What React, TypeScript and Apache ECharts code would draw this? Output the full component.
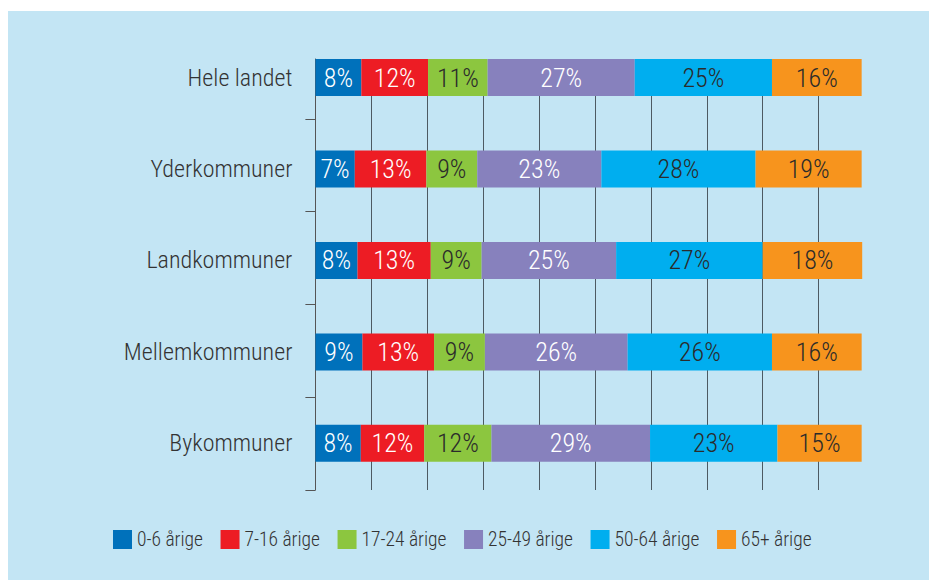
import React, { useEffect, useRef } from "react";
import * as echarts from "echarts";

const categories = ["Hele landet", "Yderkommuner", "Landkommuner", "Mellemkommuner", "Bykommuner"];
const seriesNames = ["0-6 årige", "7-16 årige", "17-24 årige", "25-49 årige", "50-64 årige", "65+ årige"];
const age0_6 = [8.4, 7.2, 7.7, 8.6, 8.3];
const age7_16 = [12.2, 13.1, 13.4, 13.1, 11.6];
const age17_24 = [10.9, 9.3, 9.3, 9.3, 12.3];
const age25_49 = [26.9, 22.7, 24.6, 26.1, 29.0];
const age50_64 = [25.1, 28.2, 26.8, 26.4, 23.3];
const age65 = [16.4, 19.4, 18.2, 16.4, 15.4];
const seriesValues = [age0_6, age7_16, age17_24, age25_49, age50_64, age65];
const colors = ["#0071bb", "#ed1c24", "#8cc63f", "#8781bd", "#00aeef", "#f7941d"];
const labelColors = ["#ffffff", "#ffffff", "#2b2b2b", "#ffffff", "#2b2b2b", "#2b2b2b"];
const boundaryTicks = [1, 2, 3, 4, 5];

const FONT = "'Liberation Sans Narrow', 'Roboto Condensed', 'Arial Narrow', Roboto, sans-serif";

export default function App() {
  const ref = useRef<HTMLDivElement>(null);
  useEffect(() => {
    if (!ref.current) return;
    const chart = echarts.init(ref.current, null, { renderer: "svg" });
    chart.setOption({
      animation: false,
      backgroundColor: "#c3e5f4",
      textStyle: { fontFamily: FONT, fontWeight: 300 },
      legend: {
        left: 100,
        top: 513.5,
        icon: "rect",
        itemWidth: 19,
        itemHeight: 19,
        itemGap: 17.5,
        data: seriesNames,
        textStyle: { fontSize: 19.5, color: "#333", fontFamily: FONT, fontWeight: 300 },
      },
      grid: [
        { left: 307.4, width: 546.8, top: 20.8, height: 457.3, containLabel: false },
        { left: 307.4, width: 546.8, top: 48, height: 431, containLabel: false },
      ],
      xAxis: [
        {
          gridIndex: 0,
          type: "value",
          min: 0,
          max: 100,
          show: false,
        },
        {
          gridIndex: 1,
          type: "value",
          min: 0,
          max: 97.8,
          interval: 10,
          axisLine: { show: false },
          axisTick: { show: false },
          axisLabel: { show: false },
          splitLine: {
            show: true,
            showMinLine: false,
            showMaxLine: false,
            lineStyle: { color: "#4d5a62", width: 1 },
          },
        },
      ],
      yAxis: [
        {
          gridIndex: 0,
          type: "category",
          inverse: true,
          data: categories,
          axisLine: { show: false },
          axisTick: { show: false },
          splitLine: { show: false },
          axisLabel: {
            margin: 23,
            fontSize: 24,
            color: "#333",
            fontFamily: FONT,
            fontWeight: 300,
            lineHeight: 30,
            padding: [8, 0, 0, 0],
          },
        },
        {
          gridIndex: 1,
          type: "value",
          inverse: true,
          min: 0.356,
          max: 5,
          axisLine: { show: true, lineStyle: { color: "#555", width: 1 } },
          axisTick: {
            show: true,
            customValues: boundaryTicks,
            length: 10,
            inside: false,
            lineStyle: { color: "#555", width: 1 },
          },
          axisLabel: { show: false },
          splitLine: { show: false },
        },
      ],
      series: seriesValues.map((vals, i) => ({
        name: seriesNames[i],
        type: "bar",
        stack: "total",
        xAxisIndex: 0,
        yAxisIndex: 0,
        barWidth: 37,
        data: vals,
        itemStyle: { color: colors[i] },
        z: 3,
        label: {
          show: true,
          position: "inside",
          color: labelColors[i],
          fontSize: 26,
          fontFamily: FONT,
          fontWeight: 300,
          formatter: (p: any) => Math.round(p.value) + "%",
        },
      })),
    });
    return () => chart.dispose();
  }, []);
  return (
    <div
      ref={ref}
      style={{ position: "absolute", left: 8, top: 11, width: 921, height: 569 }}
    />
  );
}
